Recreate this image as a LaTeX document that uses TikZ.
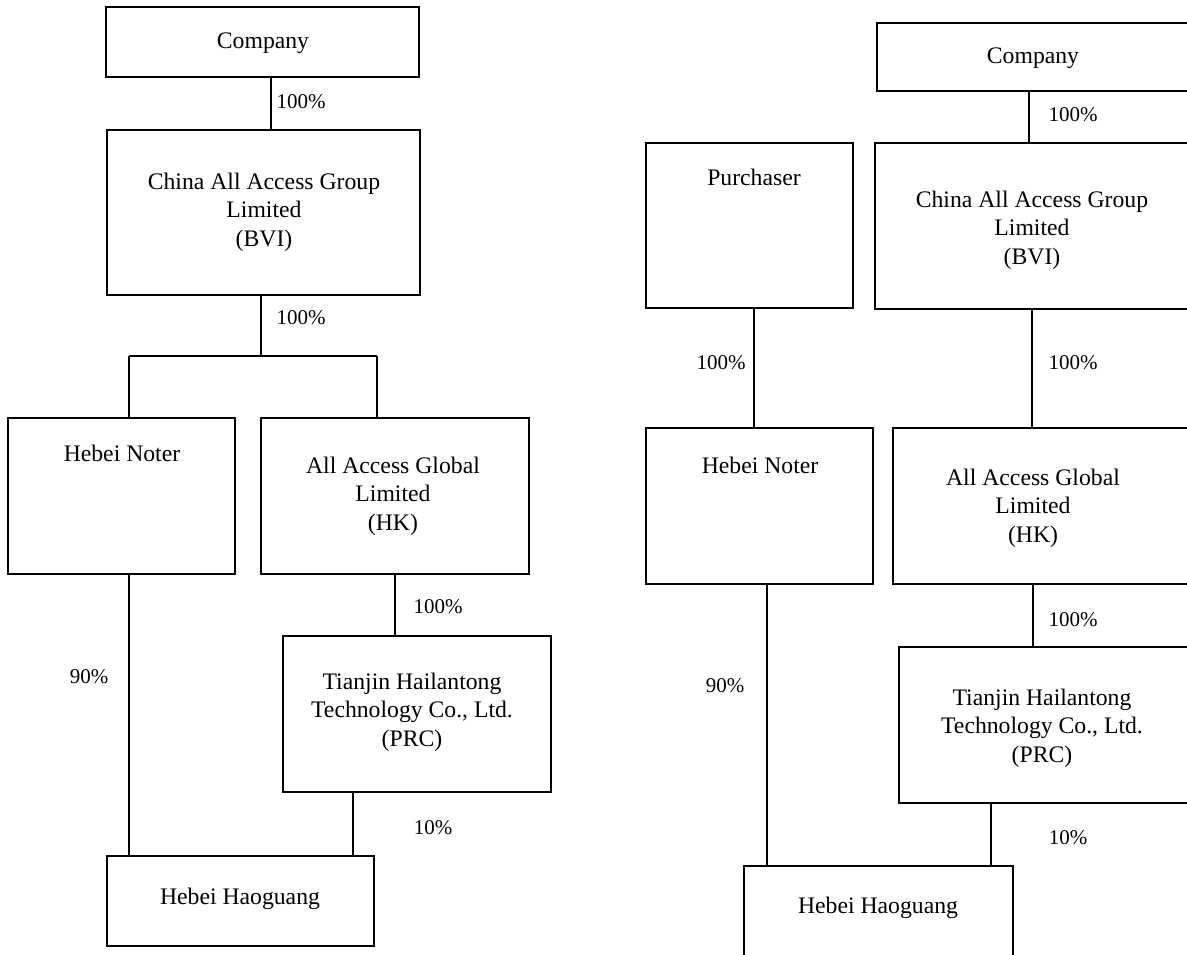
\documentclass[tikz,border=0pt]{standalone}
\usepackage{fontspec}
\setmainfont{Liberation Serif}
\usepackage{tikz}

\begin{document}
\begin{tikzpicture}[x=1pt,y=-1pt,
    box/.style={draw, line width=2.4pt, rectangle, inner sep=0pt},
    txt/.style={align=center, font=\fontsize{23.7}{28.5}\selectfont, inner sep=0pt},
    pct/.style={font=\fontsize{21}{24}\selectfont, inner sep=0pt},
    link/.style={draw, line width=1.9pt}]
    \useasboundingbox (0,0) rectangle (1187,954);
    \clip (0,0) rectangle (1187,954);

    % left chart: before the sale
    \node[box, minimum width=313pt, minimum height=70pt] (comp) at (262.5,42) {};
    \node[box, minimum width=313pt, minimum height=165pt] (cagl) at (263.5,212.5) {};
    \node[box, minimum width=227pt, minimum height=156pt] (noter) at (121.5,496) {};
    \node[box, minimum width=268pt, minimum height=156pt] (aagl) at (395,496) {};
    \node[box, minimum width=268pt, minimum height=156pt] (tj) at (417,714) {};
    \node[box, minimum width=267pt, minimum height=90pt] (hg) at (240.5,901) {};

    \node[txt] (compT) at (263,43) {Company};
    \node[txt] (caglT) at (264,212) {China All Access Group\\Limited\\(BVI)};
    \node[txt] (noterT) at (122,453) {Hebei Noter};
    \node[txt] (aaglT) at (393,496) {All Access Global\\Limited\\(HK)};
    \node[txt] (tjT) at (412,712) {Tianjin Hailantong\\Technology Co., Ltd.\\(PRC)};
    \node[txt] (hgT) at (240,899) {Hebei Haoguang};

    \coordinate (xa) at (271,0);
    \coordinate (fork) at (261,356);
    \coordinate (forkL) at (129,356);
    \coordinate (forkR) at (377,356);
    \coordinate (xb) at (353,0);
    \draw[link] (comp.south -| xa) -- (cagl.north -| xa);
    \draw[link] (cagl.south -| fork) -- (fork) (forkL) -- (forkR);
    \draw[link] (forkL) -- (noter.north -| forkL);
    \draw[link] (forkR) -- (aagl.north -| forkR);
    \draw[link] (aagl.south) -- (tj.north -| aagl.south);
    \draw[link] (noter.south -| forkL) -- (hg.north -| forkL);
    \draw[link] (tj.south -| xb) -- (hg.north -| xb);

    \node[pct] (p1) at (301,102) {100\%};
    \node[pct] (p2) at (301,318) {100\%};
    \node[pct] (p3) at (438,607) {100\%};
    \node[pct] (p4) at (89,677) {90\%};
    \node[pct] (p5) at (433,828) {10\%};

    % right chart: after the sale
    \node[box, minimum width=323pt, minimum height=68pt] (rcomp) at (1038.5,57) {};
    \node[box, minimum width=207pt, minimum height=165pt] (purch) at (749.5,225.5) {};
    \node[box, minimum width=325pt, minimum height=166pt] (rcagl) at (1037.5,226) {};
    \node[box, minimum width=227pt, minimum height=156pt] (rnoter) at (759.5,506) {};
    \node[box, minimum width=307pt, minimum height=156pt] (raagl) at (1046.5,506) {};
    \node[box, minimum width=301pt, minimum height=156pt] (rtj) at (1049.5,725) {};
    \node[box, minimum width=269pt, minimum height=109pt] (rhg) at (878.5,920.5) {};

    \node[txt] (rcompT) at (1033,58) {Company};
    \node[txt] (purchT) at (754,177) {Purchaser};
    \node[txt] (rcaglT) at (1032,230) {China All Access Group\\Limited\\(BVI)};
    \node[txt] (rnoterT) at (760,465) {Hebei Noter};
    \node[txt] (raaglT) at (1033,508) {All Access Global\\Limited\\(HK)};
    \node[txt] (rtjT) at (1042,728) {Tianjin Hailantong\\Technology Co., Ltd.\\(PRC)};
    \node[txt] (rhgT) at (878,908) {Hebei Haoguang};

    \coordinate (ra) at (1029,0);
    \coordinate (rb) at (754,0);
    \coordinate (rc) at (1032,0);
    \coordinate (rd) at (1033,0);
    \coordinate (re) at (767,0);
    \coordinate (rf) at (991,0);
    \draw[link] (rcomp.south -| ra) -- (rcagl.north -| ra);
    \draw[link] (purch.south -| rb) -- (rnoter.north -| rb);
    \draw[link] (rcagl.south -| rc) -- (raagl.north -| rc);
    \draw[link] (raagl.south -| rd) -- (rtj.north -| rd);
    \draw[link] (rnoter.south -| re) -- (rhg.north -| re);
    \draw[link] (rtj.south -| rf) -- (rhg.north -| rf);

    \node[pct] (q1) at (1073,115) {100\%};
    \node[pct] (q2) at (721,363) {100\%};
    \node[pct] (q3) at (1073,363) {100\%};
    \node[pct] (q4) at (725,686) {90\%};
    \node[pct] (q5) at (1073,620) {100\%};
    \node[pct] (q6) at (1068,838) {10\%};
\end{tikzpicture}
\end{document}
